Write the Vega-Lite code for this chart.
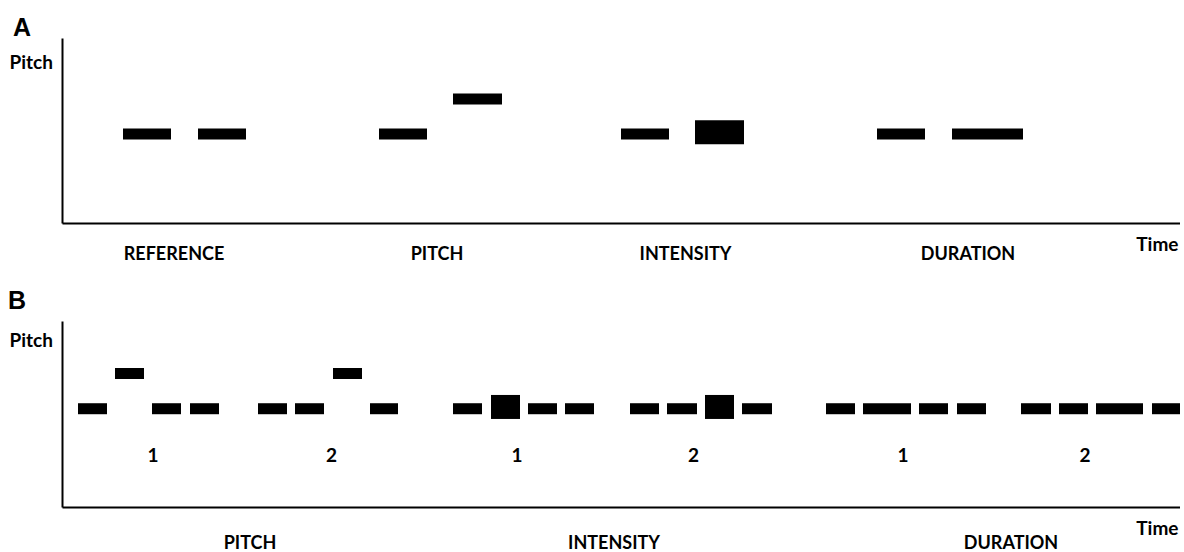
{
  "$schema": "https://vega.github.io/schema/vega-lite/v6.json",
  "padding": {"left": 8, "top": 15, "right": 0, "bottom": 0},
  "bounds": "flush",
  "spacing": 98,
  "background": "white",
  "config": {
    "view": {"stroke": null},
    "axis": {"domainColor": "black", "domainWidth": 2, "ticks": false, "labels": false, "grid": false, "titleFont": "Lato", "titleFontWeight": "bold", "titleFontSize": 19, "titleColor": "black"},
    "title": {"font": "Liberation Sans", "fontSize": 25, "fontWeight": "bold", "color": "black", "anchor": "start", "frame": "group", "baseline": "alphabetic"},
    "text": {"font": "Lato", "fontWeight": "bold", "color": "black"}
  },
  "datasets": {
    "notesA": [
      {"group": "REFERENCE", "t0": 61, "t1": 109, "pitch": 4.8, "intensity": "normal"},
      {"group": "REFERENCE", "t0": 136, "t1": 184, "pitch": 4.8, "intensity": "normal"},
      {"group": "PITCH", "t0": 317, "t1": 365, "pitch": 4.8, "intensity": "normal"},
      {"group": "PITCH", "t0": 391, "t1": 440, "pitch": 6.8, "intensity": "normal"},
      {"group": "INTENSITY", "t0": 559, "t1": 607, "pitch": 4.8, "intensity": "normal"},
      {"group": "INTENSITY", "t0": 633, "t1": 682, "pitch": 4.9, "intensity": "loud"},
      {"group": "DURATION", "t0": 815, "t1": 863, "pitch": 4.8, "intensity": "normal"},
      {"group": "DURATION", "t0": 890, "t1": 961, "pitch": 4.8, "intensity": "normal"}
    ],
    "labelsA": [
      {"label": "REFERENCE", "t": 112},
      {"label": "PITCH", "t": 375},
      {"label": "INTENSITY", "t": 623.5},
      {"label": "DURATION", "t": 906}
    ],
    "notesB": [
      {"group": "PITCH 1", "t0": 16, "t1": 45, "pitch": 5.3, "intensity": "normal"},
      {"group": "PITCH 1", "t0": 53, "t1": 82, "pitch": 7.3, "intensity": "normal"},
      {"group": "PITCH 1", "t0": 90, "t1": 119, "pitch": 5.3, "intensity": "normal"},
      {"group": "PITCH 1", "t0": 128, "t1": 157, "pitch": 5.3, "intensity": "normal"},
      {"group": "PITCH 2", "t0": 196, "t1": 225, "pitch": 5.3, "intensity": "normal"},
      {"group": "PITCH 2", "t0": 233, "t1": 262, "pitch": 5.3, "intensity": "normal"},
      {"group": "PITCH 2", "t0": 271, "t1": 300, "pitch": 7.3, "intensity": "normal"},
      {"group": "PITCH 2", "t0": 308, "t1": 336, "pitch": 5.3, "intensity": "normal"},
      {"group": "INTENSITY 1", "t0": 391, "t1": 420, "pitch": 5.3, "intensity": "normal"},
      {"group": "INTENSITY 1", "t0": 429, "t1": 458, "pitch": 5.4, "intensity": "loud"},
      {"group": "INTENSITY 1", "t0": 466, "t1": 495, "pitch": 5.3, "intensity": "normal"},
      {"group": "INTENSITY 1", "t0": 503, "t1": 532, "pitch": 5.3, "intensity": "normal"},
      {"group": "INTENSITY 2", "t0": 568, "t1": 597, "pitch": 5.3, "intensity": "normal"},
      {"group": "INTENSITY 2", "t0": 605, "t1": 635, "pitch": 5.3, "intensity": "normal"},
      {"group": "INTENSITY 2", "t0": 643, "t1": 672, "pitch": 5.4, "intensity": "loud"},
      {"group": "INTENSITY 2", "t0": 680, "t1": 710, "pitch": 5.3, "intensity": "normal"},
      {"group": "DURATION 1", "t0": 764, "t1": 793, "pitch": 5.3, "intensity": "normal"},
      {"group": "DURATION 1", "t0": 801, "t1": 849, "pitch": 5.3, "intensity": "normal"},
      {"group": "DURATION 1", "t0": 857, "t1": 886, "pitch": 5.3, "intensity": "normal"},
      {"group": "DURATION 1", "t0": 895, "t1": 924, "pitch": 5.3, "intensity": "normal"},
      {"group": "DURATION 2", "t0": 959, "t1": 989, "pitch": 5.3, "intensity": "normal"},
      {"group": "DURATION 2", "t0": 997, "t1": 1026, "pitch": 5.3, "intensity": "normal"},
      {"group": "DURATION 2", "t0": 1034, "t1": 1081, "pitch": 5.3, "intensity": "normal"},
      {"group": "DURATION 2", "t0": 1090, "t1": 1118, "pitch": 5.3, "intensity": "normal"}
    ],
    "labelsB": [
      {"label": "PITCH", "t": 188},
      {"label": "INTENSITY", "t": 552},
      {"label": "DURATION", "t": 949}
    ],
    "numsB": [
      {"num": "1", "t": 91, "pitch": 2.3},
      {"num": "2", "t": 269.5, "pitch": 2.3},
      {"num": "1", "t": 455, "pitch": 2.3},
      {"num": "2", "t": 631.5, "pitch": 2.3},
      {"num": "1", "t": 841, "pitch": 2.3},
      {"num": "2", "t": 1023, "pitch": 2.3}
    ]
  },
  "vconcat": [
    {
      "title": {"text": "A", "dx": -49, "offset": -2.5},
      "width": 1118,
      "height": 185,
      "layer": [
        {
          "data": {"name": "notesA"},
          "mark": {"type": "bar", "color": "black"},
          "encoding": {
            "x": {"field": "t0", "type": "quantitative", "scale": {"domain": [0, 1118], "nice": false}, "axis": {"title": "Time", "titleX": 1116, "titleY": 27, "titleAlign": "right", "titleBaseline": "alphabetic"}},
            "x2": {"field": "t1"},
            "y": {"field": "pitch", "type": "quantitative", "scale": {"domain": [0, 10], "nice": false}, "axis": {"title": "Pitch", "titleAngle": 0, "titleX": -53, "titleY": 30.5, "titleAlign": "left", "titleBaseline": "alphabetic"}},
            "size": {"field": "intensity", "type": "ordinal", "scale": {"domain": ["normal", "loud"], "range": [11, 24]}, "legend": null}
          }
        },
        {
          "data": {"name": "labelsA"},
          "mark": {"type": "text", "fontSize": 18, "dy": 42, "baseline": "alphabetic"},
          "encoding": {
            "x": {"field": "t", "type": "quantitative"},
            "y": {"datum": 0},
            "text": {"field": "label"}
          }
        }
      ]
    },
    {
      "title": {"text": "B", "dx": -54, "offset": 7},
      "width": 1118,
      "height": 186,
      "layer": [
        {
          "data": {"name": "notesB"},
          "mark": {"type": "bar", "color": "black"},
          "encoding": {
            "x": {"field": "t0", "type": "quantitative", "scale": {"domain": [0, 1118], "nice": false}, "axis": {"title": "Time", "titleX": 1116, "titleY": 27, "titleAlign": "right", "titleBaseline": "alphabetic"}},
            "x2": {"field": "t1"},
            "y": {"field": "pitch", "type": "quantitative", "scale": {"domain": [0, 10], "nice": false}, "axis": {"title": "Pitch", "titleAngle": 0, "titleX": -53, "titleY": 25.5, "titleAlign": "left", "titleBaseline": "alphabetic"}},
            "size": {"field": "intensity", "type": "ordinal", "scale": {"domain": ["normal", "loud"], "range": [11, 24]}, "legend": null}
          }
        },
        {
          "data": {"name": "numsB"},
          "mark": {"type": "text", "fontSize": 19, "baseline": "alphabetic"},
          "encoding": {
            "x": {"field": "t", "type": "quantitative"},
            "y": {"field": "pitch", "type": "quantitative"},
            "text": {"field": "num"}
          }
        },
        {
          "data": {"name": "labelsB"},
          "mark": {"type": "text", "fontSize": 18, "dy": 47, "baseline": "alphabetic"},
          "encoding": {
            "x": {"field": "t", "type": "quantitative"},
            "y": {"datum": 0},
            "text": {"field": "label"}
          }
        }
      ]
    }
  ]
}
